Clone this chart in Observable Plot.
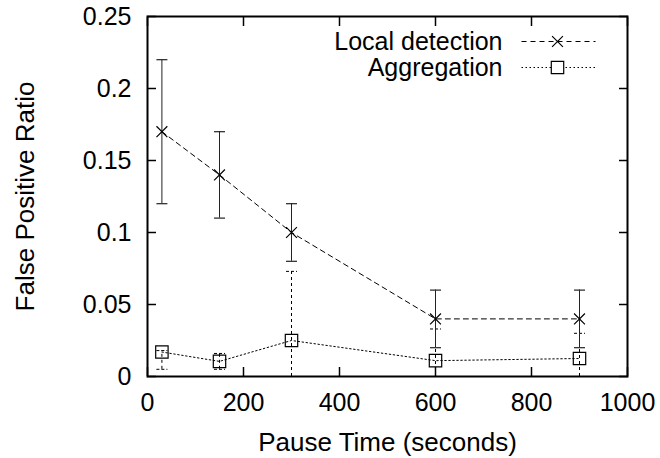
<!DOCTYPE html>
<html>
<head>
<meta charset="utf-8">
<script src="https://cdn.jsdelivr.net/npm/d3@7"></script>
<script src="https://cdn.jsdelivr.net/npm/@observablehq/plot@0.6"></script>
<style>
  html, body { margin: 0; padding: 0; background: #fff; }
  #chart svg { font-family: "Liberation Sans", Arial, Helvetica, sans-serif; }
</style>
</head>
<body>
<div id="chart"></div>
<script>
// ---- data ----
const pauseTimes = [30, 150, 300, 600, 900];

const localValues = [0.17, 0.14, 0.10, 0.04, 0.04];
const localLow    = [0.12, 0.11, 0.08, 0.02, 0.02];
const localHigh   = [0.22, 0.17, 0.12, 0.06, 0.06];

const aggValues = [0.017, 0.0105, 0.025, 0.011, 0.0125];
const aggLow    = [0.005, 0.005, 0.0, 0.0, 0.0];
const aggHigh   = [0.018, 0.016, 0.073, 0.033, 0.030];

const xTicks = [0, 200, 400, 600, 800, 1000];
const yTicks = [0, 0.05, 0.1, 0.15, 0.2, 0.25];

const seriesNames = ["Local detection", "Aggregation"];
const xTitle = "Pause Time (seconds)";
const yTitle = "False Positive Ratio";

// ---- tables built from the arrays ----
const local = pauseTimes.map((x, i) => ({x, y: localValues[i], lo: localLow[i], hi: localHigh[i]}));
const agg = pauseTimes.map((x, i) => ({x, y: aggValues[i], lo: aggLow[i], hi: aggHigh[i]}));

// custom symbols
const capSymbol = {draw(ctx) { ctx.moveTo(-5.5, 0); ctx.lineTo(5.5, 0); }};
const sampleLine = {draw(ctx) { ctx.moveTo(-37, 0); ctx.lineTo(37, 0); }};

const fs = 25;
const fsTitle = 26;
const fmt = d => String(+d.toFixed(2));

const plot = Plot.plot({
  width: 660,
  height: 458,
  marginLeft: 147,
  marginRight: 33,
  marginTop: 16,
  marginBottom: 82,
  style: {background: "#fff", color: "#000", fontSize: fs + "px", fontFamily: "Liberation Sans, Arial, sans-serif"},
  x: {domain: [0, 1000]},
  y: {domain: [0, 0.25]},
  marks: [
    // axes with inward ticks (mirrored)
    Plot.axisX({anchor: "bottom", ticks: xTicks, tickSize: -9, tickPadding: 26, tickFormat: fmt, fontSize: fs, strokeWidth: 1.5, label: null}),
    Plot.axisX({anchor: "top", ticks: xTicks, tickSize: -9, tickFormat: () => "", strokeWidth: 1.5, label: null}),
    Plot.axisY({anchor: "left", ticks: yTicks, tickSize: -9, tickPadding: 25, tickFormat: fmt, fontSize: fs, strokeWidth: 1.5, label: null}),
    Plot.axisY({anchor: "right", ticks: yTicks, tickSize: -9, tickFormat: () => "", strokeWidth: 1.5, label: null}),
    Plot.frame({stroke: "#000", strokeWidth: 2}),

    // axis titles
    Plot.text([xTitle], {frameAnchor: "bottom", lineAnchor: "middle", textAnchor: "middle", dy: 66, fontSize: fsTitle, text: d => d}),
    Plot.text([yTitle], {frameAnchor: "left", lineAnchor: "middle", textAnchor: "middle", dx: -122, rotate: -90, fontSize: fsTitle, text: d => d}),

    // Aggregation error bars (dashed)
    Plot.ruleX(agg, {x: "x", y1: "lo", y2: "hi", stroke: "#000", strokeWidth: 1, strokeDasharray: "3,3"}),
    Plot.dot(agg, {x: "x", y: "lo", symbol: capSymbol, stroke: "#000", strokeWidth: 1, strokeDasharray: "3,2"}),
    Plot.dot(agg, {x: "x", y: "hi", symbol: capSymbol, stroke: "#000", strokeWidth: 1, strokeDasharray: "3,2"}),

    // Local detection error bars (solid)
    Plot.ruleX(local, {x: "x", y1: "lo", y2: "hi", stroke: "#222", strokeWidth: 1}),
    Plot.dot(local, {x: "x", y: "lo", symbol: capSymbol, stroke: "#222", strokeWidth: 1.2}),
    Plot.dot(local, {x: "x", y: "hi", symbol: capSymbol, stroke: "#222", strokeWidth: 1.2}),

    // lines
    Plot.line(local, {x: "x", y: "y", stroke: "#000", strokeWidth: 1, strokeDasharray: "5,4"}),
    Plot.line(agg, {x: "x", y: "y", stroke: "#000", strokeWidth: 1, strokeDasharray: "1.5,2.5"}),

    // markers
    Plot.dot(local, {x: "x", y: "y", symbol: "times", r: 5, stroke: "#000", strokeWidth: 1.2}),
    Plot.dot(agg, {x: "x", y: "y", symbol: "square", r: 7, stroke: "#000", strokeWidth: 1.2, fill: "none"}),

    // legend (inside plot, top right)
    Plot.text([seriesNames[0]], {frameAnchor: "top-right", lineAnchor: "middle", textAnchor: "end", dx: -125, dy: 25, fontSize: fs, text: d => d}),
    Plot.text([seriesNames[1]], {frameAnchor: "top-right", lineAnchor: "middle", textAnchor: "end", dx: -125, dy: 51, fontSize: fs, text: d => d}),
    Plot.dot([0], {frameAnchor: "top-right", dx: -69, dy: 25, symbol: sampleLine, stroke: "#000", strokeWidth: 1, strokeDasharray: "5,4"}),
    Plot.dot([0], {frameAnchor: "top-right", dx: -69, dy: 51, symbol: sampleLine, stroke: "#000", strokeWidth: 1, strokeDasharray: "1.5,2.5"}),
    Plot.dot([0], {frameAnchor: "top-right", dx: -70, dy: 25, symbol: "times", r: 5, stroke: "#000", strokeWidth: 1.2}),
    Plot.dot([0], {frameAnchor: "top-right", dx: -70, dy: 51, symbol: "square", r: 7, stroke: "#000", strokeWidth: 1.2, fill: "#fff"})
  ]
});

document.getElementById("chart").appendChild(plot);
</script>
</body>
</html>
